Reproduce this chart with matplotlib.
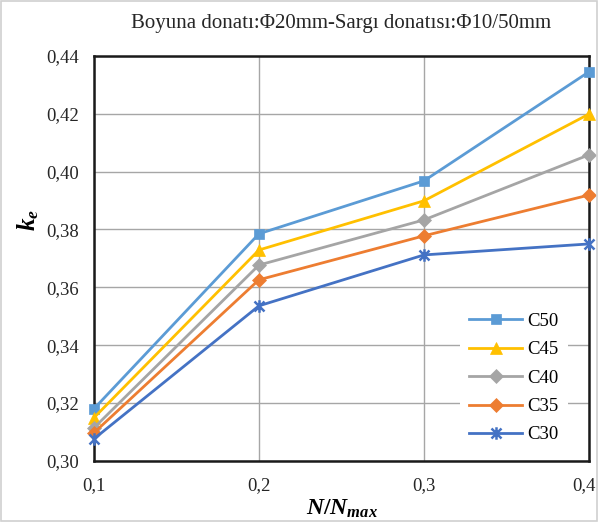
import matplotlib
matplotlib.use("Agg")
import matplotlib.pyplot as plt
import matplotlib.transforms as mtransforms
from matplotlib.patches import Rectangle
from matplotlib.path import Path

x = [0.1, 0.2, 0.3, 0.4]
series_names = ["C50", "C45", "C40", "C35", "C30"]
c50 = [0.318, 0.3785, 0.3968, 0.4345]
c45 = [0.3149, 0.3729, 0.3899, 0.4199]
c40 = [0.3114, 0.3677, 0.3833, 0.4058]
c35 = [0.3097, 0.3626, 0.3778, 0.3919]
c30 = [0.3076, 0.3536, 0.3712, 0.375]
values = [c50, c45, c40, c35, c30]
colors = ["#5B9BD5", "#FFC000", "#A5A5A5", "#ED7D31", "#4472C4"]

star = Path([(-1, -1), (1, 1), (-1, 1), (1, -1), (0, -1.25), (0, 1.25)],
            [Path.MOVETO, Path.LINETO, Path.MOVETO, Path.LINETO, Path.MOVETO, Path.LINETO])
markers = ["s", "^", "D", "D", star]
msizes = [7, 9, 7, 7, 9]
xticks = [0.1, 0.2, 0.3, 0.4]
xticklabels = ["0,1", "0,2", "0,3", "0,4"]
yticks = [0.30, 0.32, 0.34, 0.36, 0.38, 0.40, 0.42, 0.44]
yticklabels = ["0,30", "0,32", "0,34", "0,36", "0,38", "0,40", "0,42", "0,44"]

plt.rcParams['font.family'] = ['Liberation Serif', 'DejaVu Serif']
plt.rcParams['mathtext.fontset'] = 'custom'
plt.rcParams['mathtext.it'] = 'Liberation Serif:italic:bold'
plt.rcParams['mathtext.rm'] = 'Liberation Serif:bold'
plt.rcParams['mathtext.bf'] = 'Liberation Serif:bold'

fig = plt.figure(figsize=(5.98, 5.22), dpi=100)
fig.patches.append(Rectangle((0.002, 0.002), 0.996, 0.996, transform=fig.transFigure,
                             fill=False, edgecolor="#D0D0D0", linewidth=1.2))
ax = fig.add_axes([0.157, 0.117, 0.828, 0.776])

for name, vals, c, m, ms in zip(series_names, values, colors, markers, msizes):
    is_star = not isinstance(m, str)
    ax.plot(x, vals, color=c, marker=m, markersize=ms, linewidth=2, label=name,
            markeredgewidth=1.8 if is_star else 0.5, markeredgecolor=c, clip_on=False, zorder=3)

ax.set_xlim(0.1, 0.4)
ax.set_ylim(0.30, 0.44)
ax.set_xticks(xticks)
ax.set_xticklabels(xticklabels)
ax.set_yticks(yticks)
ax.set_yticklabels(yticklabels)
ax.tick_params(length=0, labelsize=13.5, colors="#262626")
ax.tick_params(axis="x", pad=12)
ax.tick_params(axis="y", pad=11)
ax.grid(True, color="#A6A6A6", linewidth=1)
ax.set_axisbelow(True)
for s in ax.spines.values():
    s.set_linewidth(1.8)
    s.set_color("#1a1a1a")

# keep the last x tick label inside the figure
last = ax.get_xticklabels()[-1]
last.set_transform(last.get_transform() + mtransforms.ScaledTranslation(-4 / 72, 0, fig.dpi_scale_trans))

ax.set_title("Boyuna donatı:Φ20mm-Sargı donatısı:Φ10/50mm", fontsize=15, pad=20, color="#262626")
ax.set_xlabel(r"$N/N_{max}$", fontsize=17, labelpad=2)
ax.set_ylabel(r"$k_e$", fontsize=18)
ax.yaxis.set_label_coords(-0.106, 0.595)

leg = ax.legend(loc="lower right", bbox_to_anchor=(0.958, 0.02), frameon=True, fontsize=13.5,
                handlelength=2.8, handletextpad=0.3, labelspacing=0.6, borderpad=0.5,
                borderaxespad=0, fancybox=False)
leg.get_frame().set_edgecolor("none")
leg.get_frame().set_facecolor("white")
leg.get_frame().set_alpha(1)

fig.savefig("out.png", dpi=100)
